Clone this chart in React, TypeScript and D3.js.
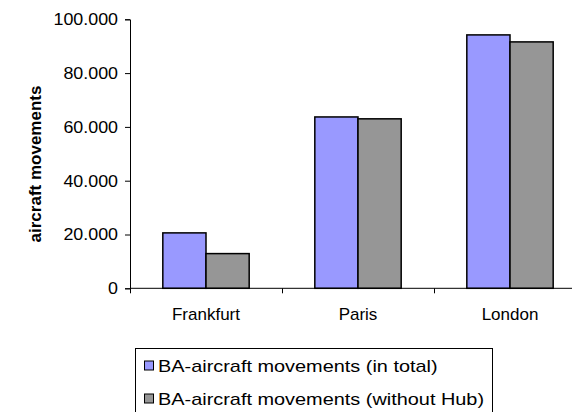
import React, { useRef, useEffect } from 'react';
import * as d3 from 'd3';

const cities = ['Frankfurt', 'Paris', 'London'];
const seriesNames = ['BA-aircraft movements (in total)', 'BA-aircraft movements (without Hub)'];
const totalMovements = [20600, 63700, 94200];
const withoutHub = [12900, 63000, 91600];
const seriesColors = ['#9999ff', '#969696'];
const yTicks = [0, 20000, 40000, 60000, 80000, 100000];

const fmt = (v: number) => (v === 0 ? '0' : d3.format('.3f')(v / 1000));

const App = () => {
    const ref = useRef<SVGSVGElement | null>(null);

    useEffect(() => {
        const svg = d3.select(ref.current);
        svg.selectAll('*').remove();

        const left = 130, right = 586, top = 19.3, bottom = 288.3;

        const x = d3.scaleBand<string>().domain(cities).range([left, right]);
        const inner = d3.scaleBand<number>()
            .domain([0, 1])
            .range([0, x.bandwidth()])
            .paddingOuter(0.76)
            .paddingInner(0);
        const y = d3.scaleLinear().domain([0, 100000]).range([bottom, top]);

        const font = "'Liberation Sans', Arial, sans-serif";

        // bars
        const data = [totalMovements, withoutHub];
        data.forEach((vals, si) => {
            svg.append('g')
                .selectAll('rect')
                .data(vals)
                .join('rect')
                .attr('x', (d, i) => (x(cities[i]) as number) + (inner(si) as number))
                .attr('y', d => y(d))
                .attr('width', inner.bandwidth())
                .attr('height', d => bottom - y(d))
                .attr('fill', seriesColors[si])
                .attr('stroke', '#000')
                .attr('stroke-width', 1.5);
        });

        // y axis
        const yAxis = svg.append('g')
            .attr('transform', `translate(${left},0)`)
            .call(d3.axisLeft(y).tickValues(yTicks).tickSize(5).tickPadding(7).tickFormat(d => fmt(+d)));
        yAxis.select('.domain').attr('stroke', '#000');
        yAxis.selectAll('text')
            .attr('font-family', font).attr('font-size', 17).attr('fill', '#000')
            .attr('transform', 'scale(1.05,1)')
            .attr('x', -12 / 1.05);

        // x axis
        const xAxis = svg.append('g')
            .attr('transform', `translate(0,${bottom})`)
            .call(d3.axisBottom(d3.scaleLinear().domain([0, 3]).range([left, right]))
                .tickValues([0, 1, 2, 3]).tickSize(5).tickFormat(() => ''));
        xAxis.select('.domain').remove();
        xAxis.append('line').attr('x1', left).attr('x2', right).attr('stroke', '#000');

        svg.append('g')
            .selectAll('text')
            .data(cities)
            .join('text')
            .attr('x', d => (x(d) as number) + x.bandwidth() / 2)
            .attr('y', 320)
            .attr('text-anchor', 'middle')
            .attr('font-family', font)
            .attr('font-size', 17)
            .text(d => d);

        // y title
        svg.append('text')
            .attr('transform', `translate(41,164) rotate(-90)`)
            .attr('text-anchor', 'middle')
            .attr('font-family', font)
            .attr('font-size', 17)
            .attr('font-weight', 'bold')
            .text('aircraft movements');

        // legend
        const lg = svg.append('g');
        lg.append('rect')
            .attr('x', 135.5).attr('y', 348.5)
            .attr('width', 357).attr('height', 80)
            .attr('fill', '#fff').attr('stroke', '#000');
        seriesNames.forEach((name, i) => {
            const ly = 365.5 + i * 33;
            lg.append('rect')
                .attr('x', 144.5).attr('y', ly - 4.5)
                .attr('width', 9).attr('height', 9)
                .attr('fill', seriesColors[i]).attr('stroke', '#000');
            lg.append('text')
                .attr('transform', `translate(158,${ly + 6}) scale(1.17,1)`)
                .attr('font-family', font)
                .attr('font-size', 17)
                .text(name);
        });
    }, []);

    return (
        <div style={{ position: 'absolute', left: 0, top: 0 }}>
            <svg ref={ref} width={572} height={412} style={{ display: 'block', background: '#fff' }} />
        </div>
    );
};

export default App;
